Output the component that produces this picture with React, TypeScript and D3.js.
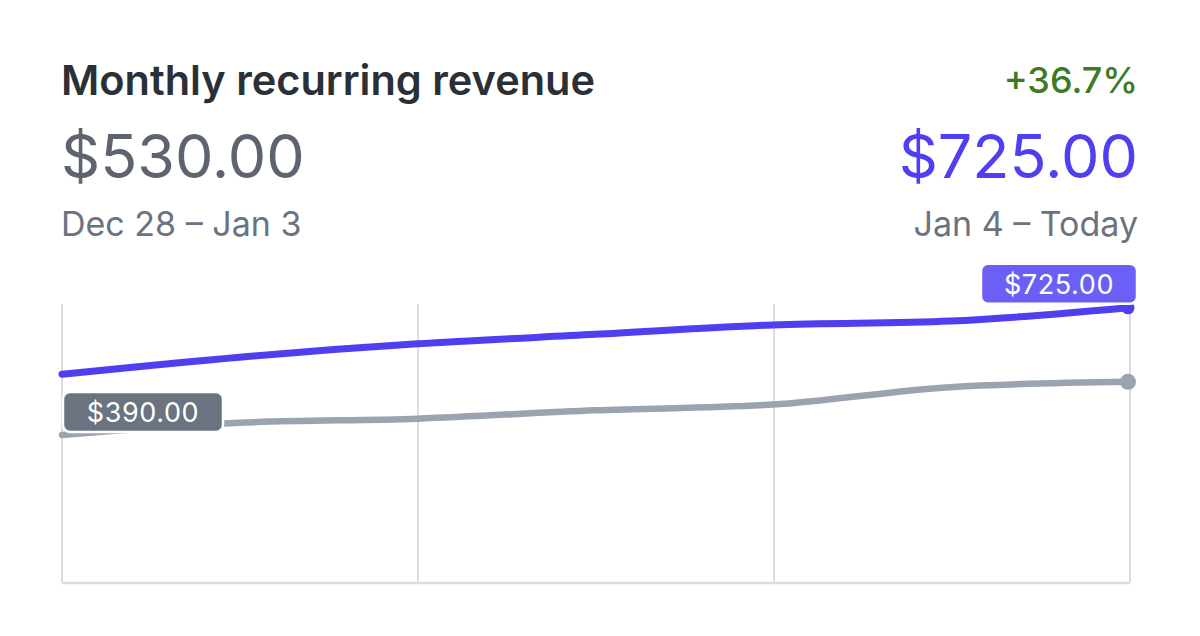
import React, { useEffect, useRef } from 'react';
import * as d3 from 'd3';

// seven days per period, cumulative MRR in dollars
const days = [0, 1, 2, 3, 4, 5, 6];
const currentValues = [550, 595, 630, 655, 680, 690, 725];
const previousValues = [390, 422, 433, 455, 470, 516, 530];
const gridDays = [0, 2, 4, 6];

const title = 'Monthly recurring revenue';
const previousTotal = '$530.00';
const currentTotal = '$725.00';
const previousRange = 'Dec 28 – Jan 3';
const currentRange = 'Jan 4 – Today';
const change = '+36.7%';

const WIDTH = 1200;
const HEIGHT = 636;

const fmt = (v: number) => `$${v.toFixed(2)}`;

const App: React.FC = () => {
  const ref = useRef<SVGSVGElement>(null);

  useEffect(() => {
    if (!ref.current) return;
    const svg = d3.select(ref.current);
    svg.selectAll('*').remove();

    const font = 'Inter, "Noto Sans", sans-serif';
    const left = 62;
    const right = 1130;
    const top = 304;
    const bottom = 583;

    const x = d3.scaleLinear().domain([0, 6]).range([left, 1128]);
    const gx = d3.scaleLinear().domain([0, 6]).range([left, right]);
    const y = d3.scaleLinear().domain([0, 735]).range([bottom, top]);

    // header
    const header = svg.append('g').style('font-family', font);
    header.append('text').attr('x', 61).attr('y', 95)
      .style('font-size', '41.5px').style('font-weight', 600).style('fill', '#2b2f36')
      .text(title);
    header.append('text').attr('x', 61).attr('y', 178)
      .style('font-size', '61px').style('font-weight', 400).style('fill', '#5d6470')
      .text(previousTotal);
    header.append('text').attr('x', 61).attr('y', 236)
      .style('font-size', '34px').style('fill', '#6b7280')
      .text(previousRange);
    header.append('text').attr('x', 1138).attr('y', 93).attr('text-anchor', 'end')
      .style('font-size', '36px').style('font-weight', 500).style('fill', '#3d7a27')
      .text(change);
    header.append('text').attr('x', 1138).attr('y', 178).attr('text-anchor', 'end')
      .style('font-size', '61px').style('fill', '#4f3ff0')
      .text(currentTotal);
    header.append('text').attr('x', 1138).attr('y', 236).attr('text-anchor', 'end')
      .style('font-size', '34px').style('fill', '#6b7280')
      .text(currentRange);

    // grid
    svg.append('g').selectAll('line').data(gridDays).enter().append('line')
      .attr('x1', (d) => gx(d)).attr('x2', (d) => gx(d))
      .attr('y1', top).attr('y2', bottom)
      .attr('stroke', '#dcdde1').attr('stroke-width', 2);
    svg.append('line').attr('x1', left).attr('x2', right)
      .attr('y1', bottom).attr('y2', bottom)
      .attr('stroke', '#dcdde1').attr('stroke-width', 2.5);

    const line = d3.line<number>()
      .x((_, i) => x(days[i]))
      .y((d) => y(d))
      .curve(d3.curveMonotoneX);

    svg.append('path').datum(previousValues).attr('d', line)
      .attr('fill', 'none').attr('stroke', '#9ba3b1').attr('stroke-width', 6.5)
      .attr('stroke-linecap', 'round');
    svg.append('path').datum(currentValues).attr('d', line)
      .attr('fill', 'none').attr('stroke', '#4f3ff0').attr('stroke-width', 7)
      .attr('stroke-linecap', 'round');

    const last = days.length - 1;
    svg.append('circle').attr('cx', x(days[last])).attr('cy', y(previousValues[last]))
      .attr('r', 8).attr('fill', '#9ba3b1');
    svg.append('circle').attr('cx', x(days[last])).attr('cy', y(currentValues[last]))
      .attr('r', 6.5).attr('fill', '#4f3ff0');

    // value badges
    const badge = (bx: number, by: number, w: number, fill: string, label: string) => {
      const g = svg.append('g').attr('transform', `translate(${bx},${by})`);
      g.append('rect').attr('width', w).attr('height', 40).attr('rx', 7)
        .attr('fill', fill).attr('stroke', '#fff').attr('stroke-width', 2.5);
      g.append('text').attr('x', w / 2).attr('y', 30).attr('text-anchor', 'middle')
        .style('font-family', font).style('font-size', '27px').style('fill', '#fff')
        .style('letter-spacing', '0.6px')
        .text(label);
    };
    badge(x(days[0]) + 1, y(previousValues[0]) - 43, 160, '#6b7280', fmt(previousValues[0]));
    badge(x(days[last]) + 9 - 156, y(currentValues[last]) - 44, 156, '#6c5ff6', fmt(currentValues[last]));
  }, []);

  return (
    <svg
      ref={ref}
      width={WIDTH}
      height={HEIGHT}
      style={{ position: 'absolute', left: 0, top: 0, background: '#fff' }}
    />
  );
};

export default App;
